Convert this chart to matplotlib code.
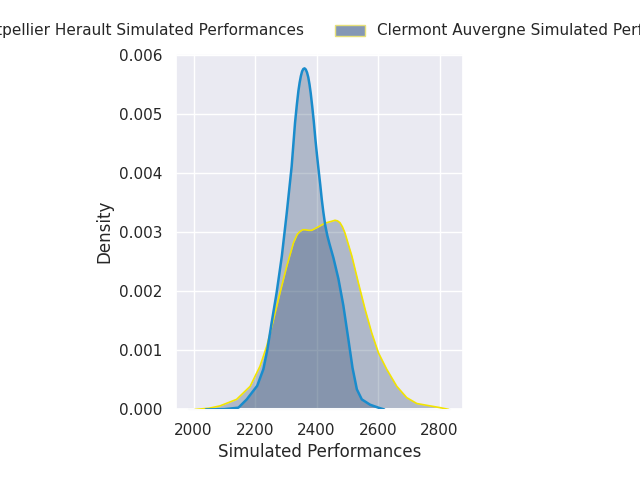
import matplotlib
matplotlib.use("Agg")
import matplotlib.pyplot as plt
import seaborn as sns
from matplotlib.patches import Patch

sns.set_theme(style="darkgrid")
plt.rcParams['font.family'] = ['DejaVu Sans']

# Montpellier Herault density curve
mont_x = [2040, 2100, 2146, 2173, 2207, 2227, 2240, 2254, 2270, 2287, 2303, 2319,
          2330, 2336, 2341, 2345, 2349, 2353, 2357, 2361, 2365, 2369, 2373, 2377,
          2381, 2386, 2391, 2396, 2401, 2406, 2412, 2417, 2422, 2428, 2435, 2442,
          2455, 2471, 2487, 2503, 2517, 2531, 2547, 2574, 2601, 2620]
mont_y = [0.0, 0.000005, 0.00003, 0.00017, 0.0004, 0.00068, 0.00101, 0.00147,
          0.00197, 0.00259, 0.00332, 0.00411, 0.00485, 0.00516, 0.00539, 0.00553,
          0.00564, 0.00572, 0.00576, 0.00577, 0.00575, 0.00570, 0.00562, 0.00550,
          0.00535, 0.00512, 0.00487, 0.00458, 0.00432, 0.00408, 0.00380, 0.00355,
          0.00334, 0.00312, 0.00294, 0.00280, 0.00256, 0.00221, 0.00176, 0.00120,
          0.00070, 0.00034, 0.00017, 0.00008, 0.00003, 0.0]

# Clermont Auvergne density curve
cler_x = [2005, 2050, 2086, 2140, 2184, 2216, 2238, 2260, 2281, 2303, 2325, 2337,
          2346, 2355, 2363, 2374, 2384, 2395, 2406, 2420, 2433, 2447, 2460, 2468,
          2476, 2484, 2492, 2515, 2536, 2558, 2579, 2601,
          2628, 2661, 2693, 2726, 2758, 2802, 2830]
cler_y = [0.0, 0.00002, 0.00006, 0.00017, 0.00039, 0.00073, 0.00107, 0.00152,
          0.00197, 0.00242, 0.00282, 0.00296, 0.00301, 0.00304, 0.00304, 0.00303,
          0.00303, 0.00306, 0.00309, 0.00313, 0.00316, 0.00318, 0.00320, 0.00319,
          0.00316, 0.00309, 0.00299, 0.00259, 0.00214, 0.00169, 0.0013, 0.00096,
          0.00068, 0.00039, 0.0002, 0.0001, 0.00007, 0.00003, 0.0]

support = [1985, 2834]
labels = ["Montpellier Herault Simulated Performances",
          "Clermont Auvergne Simulated Performances"]

fill_color = "#29476d"
mont_line = "#1a8ccc"
cler_line = "#f2e400"

fig = plt.figure(figsize=(6.4, 4.8), dpi=100)
ax = fig.add_axes([0.275, 0.147, 0.4484, 0.741])

ax.fill_between(mont_x, mont_y, 0, color=fill_color, alpha=0.3, linewidth=0)
ax.fill_between(cler_x, cler_y, 0, color=fill_color, alpha=0.3, linewidth=0)
ax.plot(support, [0, 0], color="#d6dbe3", lw=1.5, clip_on=False, zorder=1.5)
ax.plot(cler_x, cler_y, color=cler_line, lw=1.2, zorder=3)
ax.plot(mont_x, mont_y, color=mont_line, lw=1.8, zorder=4)

ax.set_xlim(1943, 2876)
ax.set_ylim(0, 0.006017)
ax.set_xticks([2000, 2200, 2400, 2600, 2800])
ax.set_yticks([0, 0.001, 0.002, 0.003, 0.004, 0.005, 0.006])
ax.set_xlabel("Simulated Performances")
ax.set_ylabel("Density")

handles = [Patch(facecolor="#8497b5", edgecolor="#7fb0d6", label=labels[0]),
           Patch(facecolor="#8497b5", edgecolor="#e6e07a", label=labels[1])]
fig.legend(handles=handles, loc="center", bbox_to_anchor=(0.5, 1 - 31 / 480),
           ncol=2, frameon=False, fontsize=11)

fig.savefig("out.png", dpi=100)
